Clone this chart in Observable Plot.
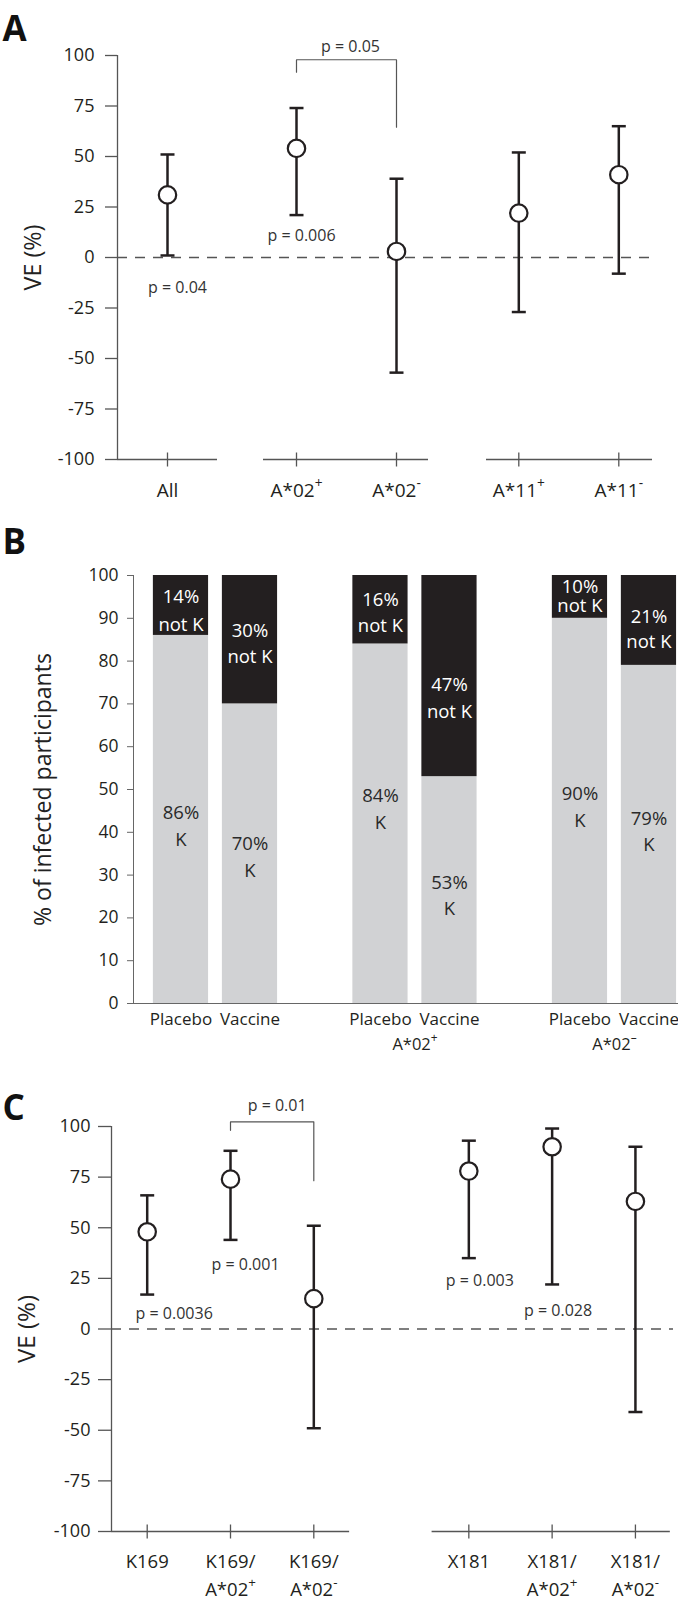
<!DOCTYPE html>
<html>
<head>
<meta charset="utf-8">
<script src="https://cdn.jsdelivr.net/npm/d3@7"></script>
<script src="https://cdn.jsdelivr.net/npm/@observablehq/plot@0.6"></script>
<style>
  html, body { margin: 0; padding: 0; background: #fff; }
  #chart { width: 678px; }
  #chart svg { display: block; }
</style>
</head>
<body>
<div id="chart"></div>
<script>
// ---------------- DATA ----------------
// Panel A: vaccine efficacy by HLA group
const catsA = ["All", "A*02⁺", "A*02⁻", "A*11⁺", "A*11⁻"];
const groupsA = [0, 1, 1, 2, 2];
const veA = [31, 54, 3, 22, 41];
const loA = [1, 21, -57, -27, -8];
const hiA = [51, 74, 39, 52, 65];
const pLabelsA = [
  {cat: "All", y: -15, text: "p = 0.04"},
  {cat: "A*02⁺", y: 10.7, text: "p = 0.006"}
];
const bracketA = {from: "A*02⁺", to: "A*02⁻", top: 97.9, leftEnd: 91.7, rightEnd: 64.5, text: "p = 0.05", textY: 104.1};

// Panel B: % of infected participants, K vs not K
const condB = ["Placebo", "Vaccine", "Placebo", "Vaccine", "Placebo", "Vaccine"];
const groupB = [0, 0, 1, 1, 2, 2];
const groupLabelsB = ["", "A*02⁺", "A*02⁻"];
const kB = [86, 70, 84, 53, 90, 79];
const notKB = [14, 30, 16, 47, 10, 21];
const yTicksB = [0, 10, 20, 30, 40, 50, 60, 70, 80, 90, 100];

// Panel C: vaccine efficacy by sieve site (two-line labels)
const catsC = ["K169", "K169/ A*02⁺", "K169/ A*02⁻", "X181", "X181/ A*02⁺", "X181/ A*02⁻"];
const catLine1C = ["K169", "K169/", "K169/", "X181", "X181/", "X181/"];
const catLine2C = ["", "A*02⁺", "A*02⁻", "", "A*02⁺", "A*02⁻"];
const groupsC = [0, 0, 0, 1, 1, 1];
const veC = [48, 74, 15, 78, 90, 63];
const loC = [17, 44, -49, 35, 22, -41];
const hiC = [66, 88, 51, 93, 99, 90];
const pLabelsC = [
  {cat: "K169", y: 7.5, text: "p = 0.0036"},
  {cat: "K169/ A*02⁺", y: 31.6, text: "p = 0.001"},
  {cat: "X181", y: 23.8, text: "p = 0.003"},
  {cat: "X181/ A*02⁺", y: 9.0, text: "p = 0.028"}
];
const bracketC = {from: "K169/ A*02⁺", to: "K169/ A*02⁻", top: 102.3, leftEnd: 98.1, rightEnd: 73.2, text: "p = 0.01", textY: 110.2};

const yTicksVE = [-100, -75, -50, -25, 0, 25, 50, 75, 100];

// ---------------- LAYOUT ----------------
const W = 678;
const FONT = "'Open Sans', 'Noto Sans', sans-serif";
const INK = "#231f20";
const AX = "#555555";
const GRAY = "#d1d2d4";

const LA = {h: 510, mt: 55, mb: 51, ml: 117, mr: 26, xd: [-0.5, 4.85],
  groupStart: [0, 1.29, 3.513], segs: [[-0.5, 0.5], [0.96, 2.61], [3.19, 4.85]],
  pNudge: [10, 5], bracketNudge: 4, tickPadding: 11, tickSize: 12};
const LB = {h: 560, mt: 65, mb: 67, ml: 133, mr: 0, xd: [-0.688, 7.21], groupStep: 2.891, half: 0.4,
  nkTop: [94.9, 86.9, 94.2, 74.3, 97.4, 90.4],
  nkBot: [88.5, 80.9, 88.1, 68.1, 92.8, 84.4],
  kTop: [44.4, 37.2, 48.5, 28.2, 48.9, 43.0],
  kBot: [38.2, 30.9, 42.2, 22.1, 42.6, 36.9]};
const LC = {h: 533, mt: 56, mb: 72, ml: 111, mr: 5, xd: [-0.4286, 6.318],
  groupStart: [0, 3.861], segs: [[-0.4286, 2.43], [3.42, 6.28]],
  pNudge: [27, 15, 11, 6], bracketNudge: 5, tickPadding: 8, tickSize: 13};

function positions(groups, starts) {
  const seen = {};
  return groups.map(g => { seen[g] = (seen[g] ?? -1) + 1; return starts[g] + seen[g]; });
}

const vTick = {draw(ctx, size) { const r = Math.sqrt(size / Math.PI); ctx.moveTo(0, -r); ctx.lineTo(0, r); }};
const hTick = {draw(ctx, size) { const r = Math.sqrt(size / Math.PI); ctx.moveTo(-r, 0); ctx.lineTo(r, 0); }};

function supify(svg, minus) {
  svg.querySelectorAll("text, tspan").forEach(el => {
    if (el.children.length) return;
    const t = el.textContent;
    const m = t.match(/^([\s\S]*?)([⁺⁻])$/);
    if (!m) return;
    el.textContent = m[1];
    const ts = document.createElementNS("http://www.w3.org/2000/svg", "tspan");
    ts.setAttribute("baseline-shift", "super");
    ts.setAttribute("font-size", "72%");
    ts.textContent = m[2] === "⁺" ? "+" : minus;
    el.appendChild(ts);
  });
}

const style = {fontFamily: FONT, fontSize: "17.5px", color: INK, background: "white", overflow: "visible"};

function vePanel(L, cats, line1, line2, groups, ve, lo, hi, pLabels, bracket, letter, letterDx, letterDy, titleDx, labelFont, line1Dy, line2Dy) {
  const pos = positions(groups, L.groupStart);
  const data = cats.map((cat, i) => ({cat, l1: line1[i], l2: line2[i], pos: pos[i], ve: ve[i], lo: lo[i], hi: hi[i]}));
  const px = (W - L.ml - L.mr) / (L.xd[1] - L.xd[0]);
  const at = c => pos[cats.indexOf(c)];
  const bx1 = at(bracket.from), bx2 = at(bracket.to);
  const bracketPts = [
    {x: bx1, y: bracket.leftEnd}, {x: bx1, y: bracket.top},
    {x: bx2, y: bracket.top}, {x: bx2, y: bracket.rightEnd}
  ];
  const pData = pLabels.map((p, i) => ({...p, x: at(p.cat) + L.pNudge[i] / px}));
  return Plot.plot({
    width: W, height: L.h,
    marginTop: L.mt, marginBottom: L.mb, marginLeft: L.ml, marginRight: L.mr,
    x: {domain: L.xd, axis: null},
    y: {domain: [-100, 100]},
    style,
    marks: [
      Plot.ruleY([0], {x1: L.xd[0], x2: L.xd[1], stroke: AX, strokeWidth: 1.3, strokeDasharray: "10 8"}),
      Plot.ruleX([L.xd[0]], {y1: -100, y2: 100, stroke: AX, strokeWidth: 1.3}),
      Plot.axisY({ticks: yTicksVE, tickSize: L.tickSize, tickPadding: L.tickPadding, tickFormat: d => String(d),
        fontSize: 18, stroke: AX, strokeWidth: 1.3, label: null}),
      Plot.ruleY(L.segs, {y: -100, x1: d => d[0], x2: d => d[1], stroke: AX, strokeWidth: 1.3}),
      Plot.dot(data, {x: "pos", y: -100, symbol: vTick, r: 7, stroke: AX, strokeWidth: 1.3, fill: "none"}),
      Plot.text(data, {x: "pos", y: -100, text: "l1", dy: line1Dy, lineAnchor: "middle", fontSize: labelFont}),
      Plot.text(data.filter(d => d.l2), {x: "pos", y: -100, text: "l2", dy: line2Dy, lineAnchor: "middle", fontSize: labelFont}),
      Plot.ruleX(data, {x: "pos", y1: "lo", y2: "hi", stroke: INK, strokeWidth: 2.5}),
      Plot.dot(data, {x: "pos", y: "lo", symbol: hTick, r: 7, stroke: INK, strokeWidth: 2.5, fill: "none"}),
      Plot.dot(data, {x: "pos", y: "hi", symbol: hTick, r: 7, stroke: INK, strokeWidth: 2.5, fill: "none"}),
      Plot.dot(data, {x: "pos", y: "ve", r: 8.7, fill: "white", stroke: INK, strokeWidth: 2.2}),
      Plot.line(bracketPts, {x: "x", y: "y", stroke: AX, strokeWidth: 1.2}),
      Plot.text([bracket], {x: (bx1 + bx2) / 2 + L.bracketNudge / px, y: "textY", text: "text", fontSize: 16, fill: "#333"}),
      Plot.text(pData, {x: "x", y: "y", text: "text", fontSize: 16, fill: "#333"}),
      Plot.text([letter], {frameAnchor: "top-left", dx: letterDx, dy: letterDy, textAnchor: "start", lineAnchor: "bottom",
        fontSize: 35, fontWeight: "bold", fill: "#111"}),
      Plot.text(["VE (%)"], {frameAnchor: "left", dx: titleDx, rotate: -90, textAnchor: "middle", lineAnchor: "middle",
        fontSize: 23, fill: "#222"})
    ]
  });
}

// Panel A
const svgA = vePanel(LA, catsA, catsA, catsA.map(() => ""), groupsA, veA, loA, hiA, pLabelsA, bracketA,
  "A", -115, -15, -84, 19, 31, 59);
supify(svgA, "-");

// Panel B
const posB = groupB.map((g, i) => g * LB.groupStep + (i % 2));
const rowsB = condB.map((c, i) => ({cond: c, x: posB[i], k: kB[i], nk: notKB[i],
  nkTop: LB.nkTop[i], nkBot: LB.nkBot[i], kTop: LB.kTop[i], kBot: LB.kBot[i]}));
const groupRows = groupLabelsB.map((t, g) => ({t, x: g * LB.groupStep + 0.5})).filter(d => d.t);
const svgB = Plot.plot({
  width: W, height: LB.h,
  marginTop: LB.mt, marginBottom: LB.mb, marginLeft: LB.ml, marginRight: LB.mr,
  x: {domain: LB.xd, axis: null},
  y: {domain: [0, 100]},
  style,
  marks: [
    Plot.rect(rowsB, {x1: d => d.x - LB.half, x2: d => d.x + LB.half, y1: 0, y2: "k", fill: GRAY}),
    Plot.rect(rowsB, {x1: d => d.x - LB.half, x2: d => d.x + LB.half, y1: "k", y2: d => d.k + d.nk, fill: INK}),
    Plot.ruleX([LB.xd[0]], {y1: 0, y2: 100, stroke: "#666", strokeWidth: 1}),
    Plot.ruleY([0], {x1: LB.xd[0], x2: LB.xd[1], stroke: "#666", strokeWidth: 1}),
    Plot.axisY({ticks: yTicksB, tickSize: 6, tickPadding: 9, tickFormat: d => String(d), fontSize: 18,
      stroke: "#666", strokeWidth: 1, label: null}),
    Plot.text(rowsB, {x: "x", y: "nkTop", text: d => `${d.nk}%`, fill: "white", fontSize: 18.5}),
    Plot.text(rowsB, {x: "x", y: "nkBot", text: () => "not K", fill: "white", fontSize: 18.5}),
    Plot.text(rowsB, {x: "x", y: "kTop", text: d => `${d.k}%`, fill: "#2a2a2a", fontSize: 18.5}),
    Plot.text(rowsB, {x: "x", y: "kBot", text: () => "K", fill: "#2a2a2a", fontSize: 18.5}),
    Plot.text(rowsB, {x: "x", y: 0, dy: 16, text: "cond", fontSize: 17}),
    Plot.text(groupRows, {x: "x", y: 0, dy: 41, text: "t", fontSize: 16.5}),
    Plot.text(["B"], {frameAnchor: "top-left", dx: -131, dy: -22, textAnchor: "start", lineAnchor: "bottom",
      fontSize: 35, fontWeight: "bold", fill: "#111"}),
    Plot.text(["% of infected participants"], {frameAnchor: "left", dx: -90, rotate: -90, textAnchor: "middle",
      lineAnchor: "middle", fontSize: 23, fill: "#222"})
  ]
});
supify(svgB, "–");

// Panel C
const svgC = vePanel(LC, catsC, catLine1C, catLine2C, groupsC, veC, loC, hiC, pLabelsC, bracketC,
  "C", -109, -7, -84, 18.5, 31, 59);
supify(svgC, "-");

const chart = document.getElementById("chart");
chart.append(svgA, svgB, svgC);

// Fit a few texts to the lengths measured on the reference
function fitText(svg, content, targetLen) {
  const el = Array.from(svg.querySelectorAll("text")).find(t => t.textContent === content);
  if (!el) return;
  const len = el.getComputedTextLength();
  if (!len) return;
  const fs = parseFloat(getComputedStyle(el).fontSize);
  el.style.fontSize = (fs * targetLen / len).toFixed(2) + "px";
}
function fitTicks(svg, targetLen) {
  const texts = Array.from(svg.querySelectorAll('g[aria-label="y-axis tick label"] text'));
  const ref = texts.find(t => t.textContent === "100");
  if (!ref) return;
  const len = ref.getComputedTextLength();
  if (!len) return;
  const fs = parseFloat(getComputedStyle(ref).fontSize) * targetLen / len;
  texts.forEach(t => t.style.fontSize = fs.toFixed(2) + "px");
}
fitText(svgA, "VE (%)", 66);
fitText(svgB, "% of infected participants", 273);
fitText(svgC, "VE (%)", 68);
fitTicks(svgA, 31);
fitTicks(svgB, 30);
fitTicks(svgC, 31);
</script>
</body>
</html>
